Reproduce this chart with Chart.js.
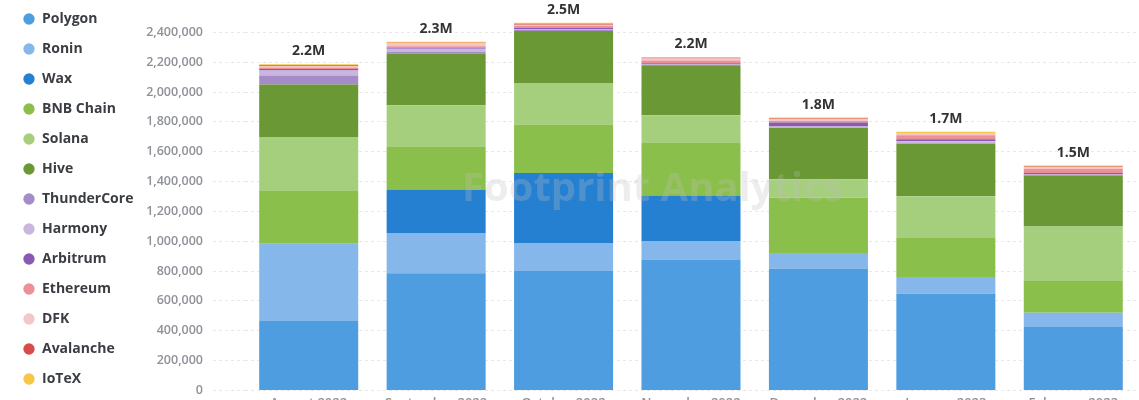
<!DOCTYPE html>
<html>
<head>
<meta charset="utf-8">
<script src="https://cdn.jsdelivr.net/npm/chart.js@4.4.1/dist/chart.umd.min.js"></script>
<style>
    html, body { margin: 0; padding: 0; background: #fff; overflow: hidden; }
    #wrap { width: 1139px; height: 400px; overflow: hidden; }
    #chainChart { display: block; margin-top: -15px; }
</style>
</head>
<body>
<div id="wrap">
    <canvas id="chainChart" width="1139" height="431"></canvas>
</div>
<script>
// months on the x axis
const months = ['August 2022', 'September 2022', 'October 2022', 'November 2022', 'December 2022', 'January 2023', 'February 2023'];

// users per chain
const polygon = [465000, 786000, 800000, 878000, 816000, 648000, 425000];
const ronin = [518000, 269000, 188000, 123000, 105000, 112000, 96000];
const wax = [0, 292000, 469000, 306000, 0, 0, 0];
const bnbChain = [353000, 284000, 326000, 351000, 371000, 261000, 212000];
const solana = [362000, 280000, 277000, 186000, 123000, 280000, 366000];
const hive = [353000, 346000, 349000, 330000, 344000, 353000, 342000];
const thunderCore = [60000, 13000, 7000, 7000, 3000, 3000, 3000];
const harmony = [34000, 20000, 7000, 4000, 7000, 13000, 3000];
const arbitrum = [10000, 7000, 7000, 7000, 27000, 13000, 10000];
const ethereum = [10000, 10000, 14000, 20000, 10000, 27000, 27000];
const dfk = [7000, 20000, 7000, 13000, 13000, 13000, 13000];
const avalanche = [7000, 3000, 7000, 3000, 3000, 3000, 3000];
const iotex = [7000, 7000, 7000, 7000, 7000, 7000, 7000];

const chainNames = ['Polygon', 'Ronin', 'Wax', 'BNB Chain', 'Solana', 'Hive', 'ThunderCore', 'Harmony', 'Arbitrum', 'Ethereum', 'DFK', 'Avalanche', 'IoTeX'];
const chainValues = [polygon, ronin, wax, bnbChain, solana, hive, thunderCore, harmony, arbitrum, ethereum, dfk, avalanche, iotex];
const chainColors = ['#4e9de0', '#86b7ea', '#2580d2', '#8bbf4b', '#a6cf7d', '#6a9834', '#a58bc7', '#c9b6de', '#8a5ab0', '#ec8f96', '#f3c6c8', '#d94b4b', '#f7c748'];

const yTicksMax = 2400000;

// total above each stack
const totalsPlugin = {
    id: 'totals',
    afterDatasetsDraw(chart) {
        const ctx = chart.ctx;
        const meta = chart.getDatasetMeta(0);
        ctx.save();
        ctx.font = 'bold 14px "Open Sans"';
        ctx.fillStyle = '#333';
        ctx.textAlign = 'center';
        ctx.textBaseline = 'bottom';
        months.forEach((m, i) => {
            let total = 0;
            chainValues.forEach(arr => { total += arr[i]; });
            const x = meta.data[i].x;
            const y = chart.scales.y.getPixelForValue(total);
            ctx.fillText((total / 1000000).toFixed(1) + 'M', x, y - 6);
        });
        ctx.restore();
    }
};

// faint watermark over the bars
const watermarkPlugin = {
    id: 'watermark',
    afterDatasetsDraw(chart) {
        const ctx = chart.ctx;
        ctx.save();
        ctx.font = 'bold 40px "Open Sans"';
        ctx.fillStyle = 'rgba(190, 190, 190, 0.28)';
        ctx.textAlign = 'left';
        ctx.textBaseline = 'middle';
        ctx.fillText('Footprint Analytics', 462, 205);
        ctx.restore();
    }
};

document.addEventListener('DOMContentLoaded', function() {
    const ctx = document.getElementById('chainChart').getContext('2d');

    const datasets = chainNames.map((name, i) => ({
        label: name,
        data: chainValues[i],
        backgroundColor: chainColors[i],
        borderWidth: 0,
        barPercentage: 0.777,
        categoryPercentage: 1,
        clip: false
    }));

    window.myChart = new Chart(ctx, {
        type: 'bar',
        data: {
            labels: months,
            datasets: datasets
        },
        options: {
            responsive: false,
            animation: false,
            layout: {
                padding: { left: 7, right: 2, top: 0, bottom: 0 }
            },
            plugins: {
                legend: {
                    display: true,
                    position: 'left',
                    align: 'start',
                    title: {
                        display: true,
                        text: ' ',
                        padding: 0,
                        font: { size: 11, lineHeight: 1 }
                    },
                    labels: {
                        usePointStyle: true,
                        pointStyle: 'circle',
                        boxWidth: 12,
                        boxHeight: 8,
                        padding: 16,
                        color: '#3a3d42',
                        font: { family: 'Open Sans', size: 14, weight: 'bold' }
                    }
                },
                tooltip: { enabled: false },
                title: { display: false }
            },
            scales: {
                x: {
                    stacked: true,
                    grid: { display: false, drawTicks: false },
                    border: { display: false },
                    ticks: {
                        color: '#8e9198',
                        padding: 5,
                        font: { family: 'Open Sans', size: 13, weight: '600' }
                    }
                },
                y: {
                    stacked: true,
                    min: 0,
                    max: 2600000,
                    afterFit(scale) {
                        scale.width = 245 - 7 - scale.chart.legend.width;
                    },
                    ticks: {
                        stepSize: 200000,
                        padding: 10,
                        color: '#8e9198',
                        font: { family: 'Open Sans', size: 12.5, weight: '600' },
                        callback: v => v > yTicksMax ? '' : v.toLocaleString('en-US')
                    },
                    grid: {
                        color: c => (c.tick && c.tick.value > yTicksMax) ? 'rgba(0,0,0,0)' : 'rgba(0, 0, 0, 0.09)',
                        tickLength: 32,
                        tickBorderDash: [3, 3]
                    },
                    border: { display: false, dash: [3, 3] }
                }
            }
        },
        plugins: [totalsPlugin, watermarkPlugin]
    });
});
</script>
</body>
</html>
